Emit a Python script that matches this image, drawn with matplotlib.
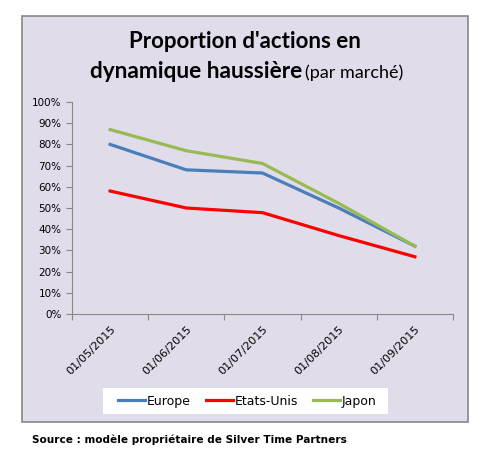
import matplotlib.pyplot as plt
from matplotlib.patches import Rectangle
from matplotlib.ticker import FixedLocator, PercentFormatter

dates = ["01/05/2015", "01/06/2015", "01/07/2015", "01/08/2015", "01/09/2015"]
europe = [0.80, 0.68, 0.665, 0.50, 0.32]
etats_unis = [0.58, 0.50, 0.478, 0.37, 0.27]
japon = [0.87, 0.77, 0.71, 0.522, 0.32]

bg = "#e1dce9"
fig = plt.figure(figsize=(4.96, 4.61), dpi=100)

def px_rect(x0, y0, x1, y1, **kw):
    # rectangle given in pixel coords (top-left origin)
    r = Rectangle((x0 / 496, 1 - y1 / 461), (x1 - x0) / 496, (y1 - y0) / 461,
                  transform=fig.transFigure, **kw)
    fig.patches.append(r)
    return r

# chart area frame + legend box
px_rect(22, 16, 468, 422, facecolor=bg, edgecolor="#888888", linewidth=1.2, zorder=-1)
px_rect(103, 388, 388, 414, facecolor="white", edgecolor="none", zorder=-0.5)

ax = fig.add_axes([72 / 496, 1 - 314 / 461, 381 / 496, 212 / 461])
ax.set_facecolor(bg)
x = range(len(dates))
ax.plot(x, europe, color="#4a7ebb", lw=2.3, label="Europe")
ax.plot(x, etats_unis, color="#ff0000", lw=2.3, label="Etats-Unis")
ax.plot(x, japon, color="#98b954", lw=2.3, label="Japon")

ax.set_xlim(-0.5, len(dates) - 0.5)
ax.set_ylim(0, 1)
ax.set_yticks([i / 10 for i in range(11)])
ax.yaxis.set_major_formatter(PercentFormatter(1.0, decimals=0))
ax.xaxis.set_major_locator(FixedLocator([i - 0.5 for i in range(len(dates) + 1)]))
ax.xaxis.set_major_formatter(plt.NullFormatter())
ax.xaxis.set_minor_locator(FixedLocator(list(x)))
ax.set_xticklabels(dates, minor=True, rotation=45, ha="right", rotation_mode="anchor",
                   fontsize=8.1)
ax.tick_params(axis="x", which="minor", length=0, pad=7)
ax.tick_params(axis="both", which="major", color="#888888", length=4, labelsize=7.5)
for s in ["top", "right"]:
    ax.spines[s].set_visible(False)
for s in ["left", "bottom"]:
    ax.spines[s].set_color("#888888")

leg = ax.legend(loc="center", bbox_to_anchor=(247 / 496, 1 - 401 / 461),
                bbox_transform=fig.transFigure, ncol=3, frameon=False, fontsize=9,
                handlelength=2.2, handletextpad=0.1, columnspacing=1.2,
                borderpad=0.3)

fig.text(245 / 496, 1 - 42 / 461, "Proportion d'actions en", ha="center", va="center",
         fontsize=16, fontweight="bold", family="Lato")
fig.text(302 / 496, 1 - 78 / 461, "dynamique haussière", ha="right", va="baseline",
         fontsize=16.3, fontweight="bold", family="Lato")
fig.text(305 / 496, 1 - 78 / 461, "(par marché)", ha="left", va="baseline",
         fontsize=13, family="Lato")

fig.text(32 / 496, 1 - 440 / 461, "Source : modèle propriétaire de Silver Time Partners",
         ha="left", va="center", fontsize=7.6, fontweight="bold")

fig.savefig("out.png", dpi=100)
